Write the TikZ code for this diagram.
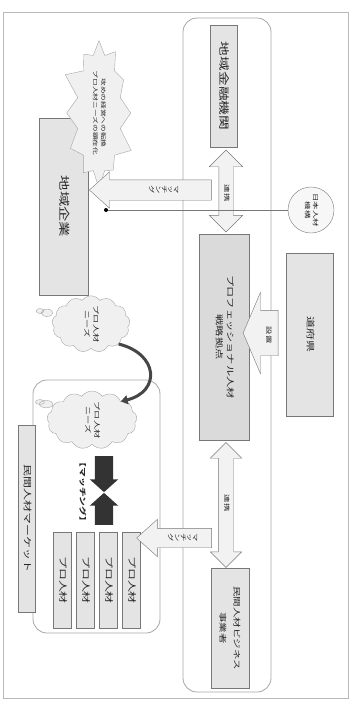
\documentclass[tikz,border=0pt]{standalone}
\usepackage{fontspec}
\usepackage{graphicx}
\newfontfamily\jpfont[FakeStretch=1.4]{Noto Sans CJK JP}
\usetikzlibrary{positioning,arrows.meta,calc,shapes.arrows,shapes.symbols,shapes.callouts}

% text turned to read top to bottom
\newcommand{\vlabel}[1]{\rotatebox{-90}{\begin{tabular}{@{}c@{}}#1\end{tabular}}}
% vertical writing, turned with the figure
\newcommand{\tatelabel}[1]{\rotatebox{-90}{\renewcommand{\arraystretch}{0.8}\begin{tabular}{@{}c@{}}#1\end{tabular}}}

\definecolor{boxgray}{HTML}{E4E4E4}
\definecolor{hubgray}{HTML}{DADADA}
\definecolor{linegray}{HTML}{777777}

\begin{document}
\begin{tikzpicture}[
  x=1pt, y=-1pt,
  font=\jpfont,
  every node/.style={text=black!85},
  boxnode/.style={draw=linegray, fill=boxgray, inner sep=0pt},
  groupbox/.style={draw=gray!70, rounded corners=14pt, inner sep=0pt, line width=0.8pt},
  blockarrow/.style={single arrow, draw=linegray, fill=gray!10, inner xsep=0pt},
  linkarrow/.style={double arrow, draw=linegray, fill=gray!10, inner xsep=0pt},
  darkarrow/.style={single arrow, fill=black!80, inner xsep=0pt, inner ysep=9pt, single arrow head extend=5pt, single arrow tip angle=96},
  needcloud/.style={cloud callout, cloud puffs=13, cloud puff arc=110, draw=gray!70, fill=gray!12, inner sep=0pt},
  smalltext/.style={font=\jpfont\fontsize{6}{7}\selectfont, inner sep=0pt}]
\useasboundingbox (0,0) rectangle (353,702);

% frames
\node[draw=gray!55, line width=0.9pt, minimum width=345pt, minimum height=686pt, inner sep=0pt] (frame) at (175.5,355) {};
\node[groupbox, minimum width=88pt, minimum height=674pt] (hubgroup) at (227,355) {};
\node[groupbox, minimum width=127pt, minimum height=253pt] (progroup) at (96.5,506.5) {};

% right column
\node[boxnode, minimum width=27pt, minimum height=122pt, font=\jpfont\fontsize{10.5}{12}\selectfont] (fin) at (223.5,86) {\vlabel{地域金融機関}};
\node[boxnode, fill=hubgray, minimum width=50pt, minimum height=206pt, font=\jpfont\fontsize{8}{11}\selectfont] (hub) at (224,337) {\vlabel{プロフェッショナル人材\\戦略拠点}};
\node[boxnode, minimum width=38pt, minimum height=120pt, font=\jpfont\fontsize{7.5}{14}\selectfont] (biz) at (230,628) {\vlabel{民間人材ビジネス\\事業者}};
\node[boxnode, minimum width=47pt, minimum height=163pt, font=\jpfont\fontsize{8.5}{10}\selectfont] (pref) at (309.5,334.5) {\vlabel{道府県}};
\node[circle, draw=linegray, fill=gray!6, minimum size=46pt, inner sep=0pt, font=\jpfont\fontsize{6}{8}\selectfont] (org) at (311,210) {\vlabel{日本人材\\機構}};

% left column
\node[boxnode, minimum width=49pt, minimum height=177pt, font=\jpfont\fontsize{11}{13}\selectfont] (firm) at (63.5,206.5) {\vlabel{地域企業}};
\node[starburst, starburst points=12, starburst point height=18pt, draw=gray!70, fill=gray!12, minimum width=80pt, minimum height=128pt, inner sep=0pt, font=\jpfont\fontsize{5.5}{8}\selectfont] (burst) at (99,113) {\vlabel{攻めの経営への転換\\プロ人材ニーズの顕在化}};
\node[needcloud, minimum width=78pt, minimum height=52pt, callout absolute pointer={(40,311)}, font=\jpfont\fontsize{6.5}{9}\selectfont] (needA) at (91,324) {\vlabel{プロ人材\\ニーズ}};
\node[needcloud, minimum width=90pt, minimum height=58pt, callout absolute pointer={(40,402)}, font=\jpfont\fontsize{6.5}{9}\selectfont] (needB) at (92,420) {\vlabel{プロ人材\\ニーズ}};
\node[boxnode, minimum width=17pt, minimum height=187pt, font=\jpfont\fontsize{8.5}{10}\selectfont] (market) at (26.5,518.5) {\vlabel{民間人材マーケット}};
\foreach \i/\xx in {1/62,2/85,3/108,4/131}
  \node[boxnode, minimum width=18pt, minimum height=96pt, font=\jpfont\fontsize{8.5}{10}\selectfont] (pro\i) at (\xx,580) {\vlabel{プロ人材}};
\node[font=\jpfont\bfseries\fontsize{7}{8}\selectfont, inner sep=0pt] (matchtag) at (82,492) {\vlabel{【マッチング】}};
\node[darkarrow, rotate=-90, minimum height=36pt] (down) at (104,470) {};
\node[darkarrow, rotate=90, minimum height=32pt] (up) at (104,513) {};

% block arrows
\node[blockarrow, rotate=180, minimum height=122pt, inner ysep=10pt, single arrow head extend=8pt, single arrow tip angle=84] (match1) at (156,190) {};
\node[blockarrow, rotate=180, minimum height=75pt, inner ysep=9.5pt, single arrow head extend=9pt, single arrow tip angle=84] (match2) at (179.5,538) {};
\node[blockarrow, rotate=180, minimum height=35pt, inner ysep=22.5pt, single arrow head extend=18pt, single arrow tip angle=134] (setup) at (265.5,333) {};
\node[linkarrow, rotate=90, minimum height=82pt, inner ysep=7pt, double arrow head extend=9.5pt] (link1) at (226,191) {};
\node[linkarrow, rotate=90, minimum height=125pt, inner ysep=7.5pt, double arrow head extend=8pt] (link2) at (226,505) {};

\node[smalltext] (match1lbl) at (163,190) {\tatelabel{マ\\ッ\\チ\\ン\\グ}};
\node[smalltext] (match2lbl) at (182,538) {\tatelabel{マ\\ッ\\チ\\ン\\グ}};
\node[smalltext] (setuplbl) at (268,335) {\vlabel{設置}};
\node[smalltext] (link1lbl) at (226,193) {\vlabel{連携}};
\node[smalltext] (link2lbl) at (226,503) {\vlabel{連携}};

% support line
\coordinate (dot) at (106,210);
\draw[linegray, line width=0.7pt] (org.west) -- (dot);
\fill[black] (dot) circle (2);

% needs carried over
\draw[gray!55!black, line width=3pt, -{Triangle[length=7pt,width=9pt]}] (needA.south east) .. controls +(40,10) and +(40,-10) .. (needB.north east);
\end{tikzpicture}
\end{document}
